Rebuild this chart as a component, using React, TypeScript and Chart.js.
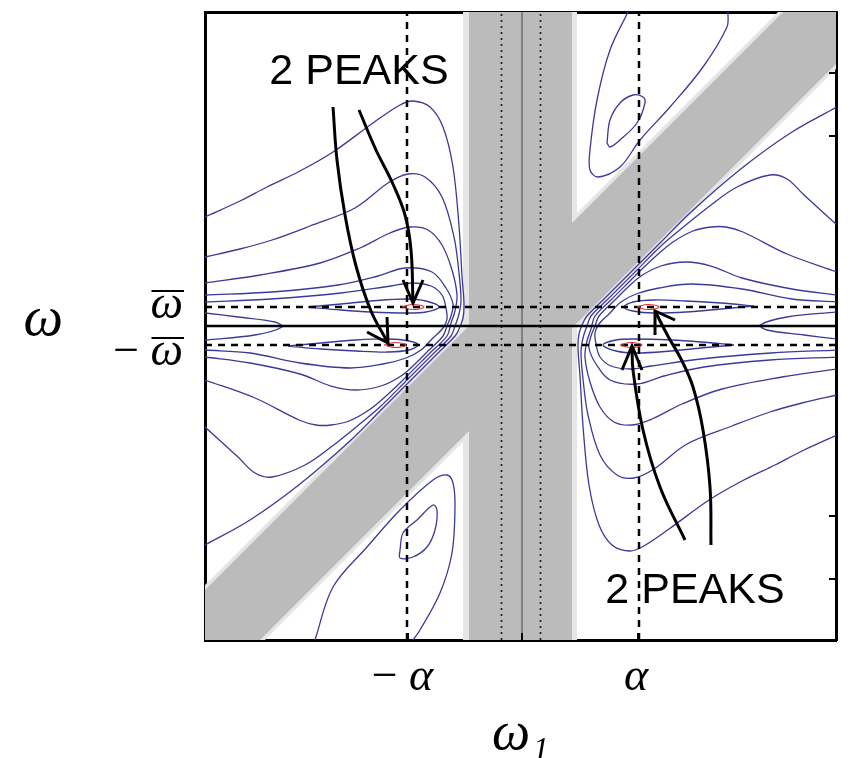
import React, { useEffect, useRef } from 'react';
import { Chart, registerables } from 'chart.js';

Chart.register(...registerables);

type P = [number, number];

// ---- axis ranges (ω1 horizontally, ω vertically) ----
const X_MIN = -316;
const X_MAX = 315;
const Y_MIN = -314;
const Y_MAX = 314;

// ---- tick labels ----
const xTickValues = [-120, 115];
const xTickLabels = ['\u2212\u2009\u03b1', '\u03b1'];
const yTickValues = [20, -27];
const yTickLabels = ['\u03c9', '\u2212\u2009\u03c9'];
const yTitleValue = 6;
const yTitleText = '\u03c9';
const xTitleText = '\u03c9\u2081';

// ---- reference lines ----
const alphaLines = [-114, 118];
const omegaBarLines = [19, -19];
const dottedLines = [-19.5, 19.5];
const centerVertical = 1;
const centerHorizontal = 0;
const rightTicks = [253, 190, -190, -253];
const bottomTicks = [-113, 1, 117];

// ---- gray bands ----
const verticalFringe: P[] = [[-58, -314], [56, -314], [56, 314], [-58, 314], [-58, -314]];
const verticalBand: P[] = [[-52, -314], [51, -314], [51, 314], [-52, 314], [-52, -314]];
const diagonalFringe: P[] = [[-316, -314], [-256, -314], [315, 257], [315, 314], [257, 314], [-316, -259], [-316, -314]];
const diagonalBand: P[] = [[-316, -314], [-261, -314], [315, 262], [315, 314], [262, 314], [-316, -264], [-316, -314]];

// ---- contours, left half ----
const contourL1: P[] = [[-316, 109], [-281, 125], [-254, 139], [-221, 155], [-188, 174], [-148, 203], [-121, 221], [-108, 225], [-91, 219], [-78, 199], [-68, 159], [-62, 100], [-59, 50], [-57, 22], [-58, 8], [-62, -3], [-66, -10], [-83, -27], [-111, -55], [-140, -84], [-170, -114], [-221, -158], [-271, -194], [-316, -219]];
const contourL2: P[] = [[-316, 69], [-281, 77], [-249, 86], [-211, 100], [-166, 118], [-133, 143], [-113, 152], [-96, 149], [-79, 129], [-67, 89], [-62, 53], [-60, 26], [-62, 12], [-66, 0], [-70, -10], [-87, -27], [-115, -55], [-140, -80], [-160, -97], [-190, -121], [-216, -139], [-249, -151], [-266, -147], [-283, -131], [-316, -101]];
const contourL3: P[] = [[-316, 43], [-261, 51], [-201, 63], [-161, 78], [-131, 93], [-111, 99], [-93, 96], [-79, 81], [-69, 56], [-64, 31], [-66, 15], [-70, 3], [-74, -10], [-91, -27], [-119, -55], [-135, -70], [-152, -84], [-172, -95], [-190, -99], [-205, -99], [-222, -94], [-266, -72], [-316, -54]];
const contourL4: P[] = [[-316, 31], [-249, 34], [-183, 41], [-143, 50], [-116, 58], [-89, 54], [-75, 38], [-68, 22], [-70, 10], [-74, 0], [-78, -10], [-95, -27], [-105, -37], [-120, -50], [-140, -60], [-165, -64], [-190, -60], [-221, -48], [-271, -37], [-316, -31]];
const contourL5: P[] = [[-316, 24], [-250, 27], [-180, 33], [-130, 40], [-109, 43], [-90, 40], [-79, 31], [-75, 18], [-74, 7], [-78, -2], [-88, -12], [-100, -24], [-115, -32], [-138, -38], [-171, -42], [-221, -37], [-271, -27], [-316, -24]];
const spindleL1: P[] = [[-213, 19], [-180, 22], [-150, 25], [-115, 27], [-95, 25], [-82, 19], [-95, 14], [-115, 13], [-150, 14], [-180, 16], [-213, 19]];
const spindleL2: P[] = [[-233, -20], [-200, -17], [-165, -14], [-133, -13], [-112, -15], [-103, -19], [-112, -24], [-133, -26], [-165, -25], [-200, -23], [-233, -20]];
const wedgeL: P[] = [[-316, 13], [-283, 9], [-246, 4], [-239, -1], [-266, -9], [-316, -14]];
const loopBottomOuter: P[] = [[-206, -314], [-188, -261], [-154, -221], [-121, -184], [-88, -154], [-74, -149], [-68, -157], [-66, -181], [-69, -227], [-81, -267], [-101, -304], [-108, -314]];
const loopBottomInner: P[] = [[-121, -224], [-118, -207], [-104, -194], [-88, -179], [-84, -184], [-86, -204], [-94, -221], [-108, -231], [-121, -232], [-121, -224]];

// ---- contours, right half ----
const contourR1: P[] = [[316, -109], [281, -125], [254, -139], [221, -155], [188, -174], [148, -203], [121, -221], [108, -225], [91, -219], [78, -199], [68, -159], [62, -100], [59, -50], [57, -22], [58, -8], [62, 3], [66, 10], [83, 27], [111, 55], [140, 84], [170, 114], [221, 158], [271, 194], [316, 219]];
const contourR2: P[] = [[316, -69], [281, -77], [249, -86], [211, -100], [166, -118], [133, -143], [113, -152], [96, -149], [79, -129], [67, -89], [62, -53], [60, -26], [62, -12], [66, 0], [70, 10], [87, 27], [115, 55], [140, 80], [160, 97], [190, 121], [216, 139], [249, 151], [266, 147], [283, 131], [316, 101]];
const contourR3: P[] = [[316, -43], [261, -51], [201, -63], [161, -78], [131, -93], [111, -99], [93, -96], [79, -81], [69, -56], [64, -31], [66, -15], [70, -3], [74, 10], [91, 27], [119, 55], [135, 70], [152, 84], [172, 95], [190, 99], [205, 99], [222, 94], [266, 72], [316, 54]];
const contourR4: P[] = [[316, -31], [249, -34], [183, -41], [143, -50], [116, -58], [89, -54], [75, -38], [68, -22], [70, -10], [74, 0], [78, 10], [95, 27], [105, 37], [120, 50], [140, 60], [165, 64], [190, 60], [221, 48], [271, 37], [316, 31]];
const contourR5: P[] = [[316, -24], [250, -27], [180, -33], [130, -40], [109, -43], [90, -40], [79, -31], [75, -18], [74, -7], [78, 2], [88, 12], [100, 24], [115, 32], [138, 38], [171, 42], [221, 37], [271, 27], [316, 24]];
const spindleR1: P[] = [[213, -19], [180, -22], [150, -25], [115, -27], [95, -25], [82, -19], [95, -14], [115, -13], [150, -14], [180, -16], [213, -19]];
const spindleR2: P[] = [[233, 20], [200, 17], [165, 14], [133, 13], [112, 15], [103, 19], [112, 24], [133, 26], [165, 25], [200, 23], [233, 20]];
const wedgeR: P[] = [[316, -13], [283, -9], [246, -4], [239, 1], [266, 9], [316, 14]];
const loopTopOuter: P[] = [[107, 314], [89, 276], [76, 226], [69, 176], [69, 156], [77, 149], [99, 159], [119, 186], [149, 219], [182, 259], [206, 299], [207, 314]];
const loopTopInner: P[] = [[86, 183], [89, 206], [99, 223], [112, 231], [122, 229], [124, 223], [116, 203], [99, 186], [89, 179], [86, 183]];

// ---- peaks (red) ----
const peakUL: P[] = [[-119, 19], [-108, 21.5], [-97, 19], [-108, 16.5], [-119, 19]];
const peakLL: P[] = [[-137, -19], [-126, -16.5], [-115, -19], [-126, -21.5], [-137, -19]];
const peakUR: P[] = [[116, 19], [127, 21.5], [138, 19], [127, 16.5], [116, 19]];
const peakLR: P[] = [[99, -19], [110, -16.5], [121, -19], [110, -21.5], [99, -19]];

// ---- annotation arrows ----
const arrow1: P[] = [[-188, 219], [-184, 166], [-176, 111], [-165, 60], [-150, 15], [-133, -17]];
const arrow1Head: P[] = [[-134, 9], [-133, -17], [-154, -6]];
const arrow2: P[] = [[-162, 216], [-145, 176], [-129, 144], [-116, 111], [-110, 76], [-108, 23]];
const arrow2Head: P[] = [[-118, 46], [-108, 23], [-98, 46]];
const arrow3: P[] = [[164, -214], [139, -161], [122, -104], [112, -44], [111, -20]];
const arrow3Head: P[] = [[101, -44], [111, -20], [121, -44]];
const arrow4: P[] = [[190, -219], [189, -161], [182, -104], [172, -61], [160, -33], [148, -12], [134, 15]];
const arrow4Head: P[] = [[134, -9], [134, 15], [154, 6]];
const peakLabels = [
  { x: -162, y: 242.5, text: '2 PEAKS' },
  { x: 174, y: -277, text: '2 PEAKS' },
];

const SERIF = '"Liberation Serif", "DejaVu Serif", serif';
const SANS = '"Liberation Sans", Arial, sans-serif';
const BLUE = 'rgb(58,58,155)';
const GRAY = 'rgb(187,187,187)';
const FRINGE = 'rgb(230,230,230)';
const Y_TICK_FONT = { family: SERIF, size: 46, style: 'italic' as const };
const Y_TICK_PAD = 22;
const OVERLINE_RISE = 15;

const toPts = (arr: P[]) => arr.map(([x, y]) => ({ x, y }));

function lineDs(data: P[], color: string, width: number, extra: Record<string, unknown> = {}) {
  return {
    data: toPts(data),
    xAxisID: 'x',
    yAxisID: 'y',
    showLine: true,
    borderColor: color,
    borderWidth: width,
    pointRadius: 0,
    pointHoverRadius: 0,
    fill: false,
    tension: 0,
    ...extra,
  };
}

const noPad = (s: any) => {
  s.paddingTop = 0;
  s.paddingBottom = 0;
  s.paddingLeft = 0;
  s.paddingRight = 0;
};

const peakTextPlugin = {
  id: 'peakText',
  afterDatasetsDraw(chart: any) {
    const { ctx, scales } = chart;
    ctx.save();
    ctx.font = `43px ${SANS}`;
    ctx.fillStyle = '#000';
    ctx.textAlign = 'center';
    ctx.textBaseline = 'alphabetic';
    for (const l of peakLabels) {
      ctx.fillText(l.text, scales.x.getPixelForValue(l.x), scales.y.getPixelForValue(l.y));
    }
    ctx.restore();
  },
  afterDraw(chart: any) {
    // overline (bar) over the ω tick labels
    const { ctx, scales } = chart;
    const ys = scales.y;
    ctx.save();
    ctx.font = `italic ${Y_TICK_FONT.size}px ${SERIF}`;
    const w = ctx.measureText('\u03c9').width;
    const right = ys.right - Y_TICK_PAD;
    ctx.strokeStyle = '#000';
    ctx.lineWidth = 2;
    for (const v of yTickValues) {
      const py = ys.getPixelForValue(v) - OVERLINE_RISE;
      ctx.beginPath();
      ctx.moveTo(right - w + 1, py);
      ctx.lineTo(right + 1, py);
      ctx.stroke();
    }
    ctx.restore();
  },
};

export default function App() {
  const ref = useRef<HTMLCanvasElement | null>(null);

  useEffect(() => {
    if (!ref.current) return;
    const datasets: any[] = [];

    for (const poly of [verticalFringe, diagonalFringe]) {
      datasets.push(lineDs(poly, 'rgba(0,0,0,0)', 0, { fill: 'shape', backgroundColor: FRINGE, order: 20 }));
    }
    for (const poly of [verticalBand, diagonalBand]) {
      datasets.push(lineDs(poly, 'rgba(0,0,0,0)', 0, { fill: 'shape', backgroundColor: GRAY, order: 19 }));
    }

    const contourList = [
      contourL1, contourL2, contourL3, contourL4, contourL5, spindleL1, spindleL2, wedgeL, loopBottomOuter, loopBottomInner,
      contourR1, contourR2, contourR3, contourR4, contourR5, spindleR1, spindleR2, wedgeR, loopTopOuter, loopTopInner,
    ];
    for (const c of contourList) {
      datasets.push(lineDs(c, BLUE, 1.3, { tension: 0.35, order: 10 }));
    }

    datasets.push(lineDs([[centerVertical, Y_MIN], [centerVertical, Y_MAX]], '#444', 1, { order: 7 }));
    for (const v of dottedLines) {
      datasets.push(lineDs([[v, Y_MIN], [v, Y_MAX]], '#222', 1.7, { borderDash: [2, 4], order: 7 }));
    }
    datasets.push(lineDs([[X_MIN, centerHorizontal], [X_MAX, centerHorizontal]], '#000', 2.5, { order: 6 }));
    for (const v of omegaBarLines) {
      datasets.push(lineDs([[X_MIN, v], [X_MAX, v]], '#000', 2.5, { borderDash: [7, 6], order: 6 }));
    }
    for (const v of alphaLines) {
      datasets.push(lineDs([[v, Y_MIN], [v, Y_MAX]], '#000', 2.5, { borderDash: [7, 6], order: 6 }));
    }

    for (const p of [peakUL, peakLL, peakUR, peakLR]) {
      datasets.push(lineDs(p, 'rgb(215,55,55)', 1.1, { tension: 0.45, order: 4 }));
    }

    for (const a of [arrow1, arrow2, arrow3, arrow4]) {
      datasets.push(lineDs(a, '#000', 3, { tension: 0.4, order: 2 }));
    }
    for (const h of [arrow1Head, arrow2Head, arrow3Head, arrow4Head]) {
      datasets.push(lineDs(h, '#000', 3, { order: 2 }));
    }

    for (const v of rightTicks) {
      datasets.push(lineDs([[X_MAX - 7, v], [X_MAX, v]], '#000', 2, { order: 1 }));
    }
    for (const v of bottomTicks) {
      datasets.push(lineDs([[v, Y_MIN], [v, Y_MIN + 7]], '#000', 2, { order: 1 }));
    }

    const chart = new Chart(ref.current, {
      type: 'scatter',
      data: { datasets },
      plugins: [peakTextPlugin],
      options: {
        responsive: false,
        maintainAspectRatio: false,
        animation: false,
        devicePixelRatio: 1,
        events: [],
        layout: { padding: 0, autoPadding: false },
        plugins: { legend: { display: false }, tooltip: { enabled: false } },
        scales: {
          x: {
            type: 'linear',
            position: 'bottom',
            min: X_MIN,
            max: X_MAX,
            z: 1,
            afterFit: (s: any) => { s.height = 118; noPad(s); },
            afterBuildTicks: (s: any) => { s.ticks = xTickValues.map((v) => ({ value: v })); },
            ticks: {
              autoSkip: false,
              maxRotation: 0,
              minRotation: 0,
              padding: 10,
              color: '#000',
              font: { family: SERIF, size: 46, style: 'italic' },
              callback: (v: any) => {
                const i = xTickValues.indexOf(Number(v));
                return i >= 0 ? xTickLabels[i] : '';
              },
            },
            grid: { display: false, drawTicks: false },
            border: { display: true, color: '#000', width: 3 },
            title: {
              display: true,
              text: xTitleText,
              color: '#000',
              font: { family: SERIF, size: 54, style: 'italic', lineHeight: 0.9 },
              padding: { top: 0, bottom: -1 },
            },
          },
          y: {
            type: 'linear',
            position: 'left',
            min: Y_MIN,
            max: Y_MAX,
            z: 1,
            weight: 0,
            afterFit: (s: any) => { s.width = 120; noPad(s); },
            afterBuildTicks: (s: any) => { s.ticks = yTickValues.map((v) => ({ value: v })); },
            ticks: {
              autoSkip: false,
              padding: Y_TICK_PAD,
              color: '#000',
              font: Y_TICK_FONT,
              callback: (v: any) => {
                const i = yTickValues.indexOf(Number(v));
                return i >= 0 ? yTickLabels[i] : '';
              },
            },
            grid: { display: false, drawTicks: false },
            border: { display: true, color: '#000', width: 3 },
          },
          yOmega: {
            type: 'linear',
            position: 'left',
            min: Y_MIN,
            max: Y_MAX,
            weight: 1,
            afterFit: (s: any) => { s.width = 85; noPad(s); },
            afterBuildTicks: (s: any) => { s.ticks = [{ value: yTitleValue }]; },
            ticks: {
              autoSkip: false,
              padding: 22,
              color: '#000',
              font: { family: SERIF, size: 56, style: 'italic' },
              callback: () => yTitleText,
            },
            grid: { display: false, drawTicks: false },
            border: { display: false },
          },
          xTop: {
            type: 'linear',
            position: 'top',
            min: X_MIN,
            max: X_MAX,
            z: 1,
            afterFit: (s: any) => { s.height = 12; noPad(s); },
            ticks: { display: false },
            grid: { display: false, drawTicks: false },
            border: { display: true, color: '#000', width: 3 },
          },
          yRight: {
            type: 'linear',
            position: 'right',
            min: Y_MIN,
            max: Y_MAX,
            z: 1,
            afterFit: (s: any) => { s.width = 18; noPad(s); },
            ticks: { display: false },
            grid: { display: false, drawTicks: false },
            border: { display: true, color: '#000', width: 3 },
          },
        },
      } as any,
    });
    return () => chart.destroy();
  }, []);

  return (
    <div style={{ position: 'absolute', left: 0, top: 0, width: 854, height: 758, background: '#fff' }}>
      <canvas ref={ref} width={854} height={758} style={{ display: 'block' }} />
    </div>
  );
}
